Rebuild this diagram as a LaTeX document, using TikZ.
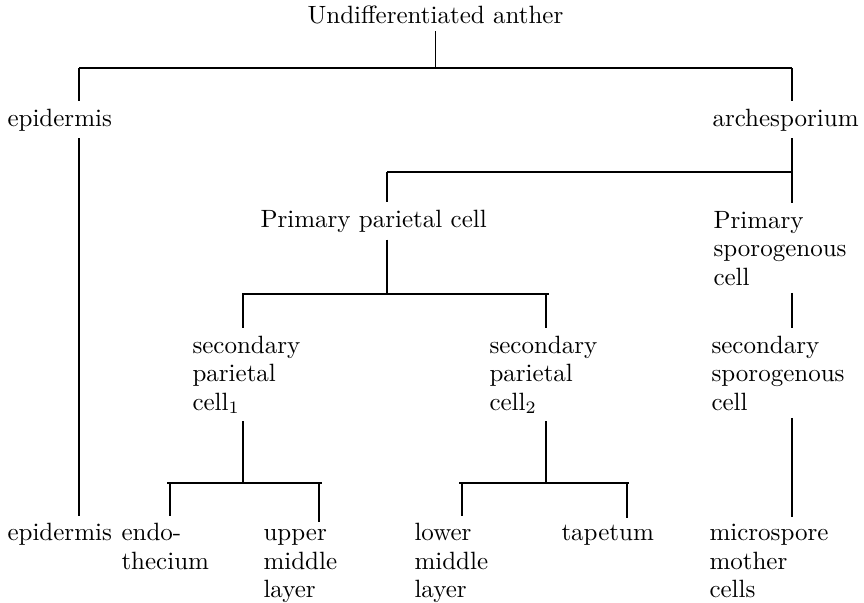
\documentclass[tikz,border=0pt]{standalone}
\usepackage{amsmath}
\usepackage{tikz}

\begin{document}
\begin{tikzpicture}[x=0.4pt,y=-0.4pt,
  cellname/.style={anchor=base west,align=left,inner xsep=0pt,inner ysep=2.8pt,
    font=\fontsize{10}{11.4}\selectfont},
  link/.style={line width=0.45pt}]
\useasboundingbox (0,0) rectangle (864,602);

% cell names (multi-line ones sit on the baseline of their last line)
\node[cellname,anchor=base] (root) at (435.5,23) {Undifferentiated anther};
\node[cellname] (epiA) at (7,126) {epidermis};
\node[cellname] (arch) at (712,126) {archesporium};
\node[cellname] (ppc) at (260,227) {Primary parietal cell};
\node[cellname] (psc) at (713,285) {Primary\\sporogenous\\cell};
\node[cellname] (spc1) at (192,410) {secondary\\parietal\\cell$_1$};
\node[cellname] (spc2) at (489,410) {secondary\\parietal\\cell$_2$};
\node[cellname] (ssc) at (711,410) {secondary\\sporogenous\\cell};
\node[cellname] (epiB) at (7,540.5) {epidermis};
\node[cellname] (endo) at (121,569) {endo-\\thecium};
\node[cellname] (umid) at (263,597.5) {upper\\middle\\layer};
\node[cellname] (lmid) at (414,597.5) {lower\\middle\\layer};
\node[cellname] (tap) at (561,540.5) {tapetum};
\node[cellname] (msc) at (709,597.5) {microspore\\mother\\cells};

% bars
\coordinate (barAl) at (79,68);  \coordinate (barAr) at (792,68);
\coordinate (barBl) at (387,172); \coordinate (barBr) at (792,172);
\coordinate (barCl) at (242,294); \coordinate (barCr) at (549,294);
\coordinate (barDl) at (167,483); \coordinate (barDr) at (322,483);
\coordinate (barEl) at (459,483); \coordinate (barEr) at (629,483);
\coordinate (colC1) at (243,294); \coordinate (colC2) at (546,294);
\coordinate (colD1) at (170,483); \coordinate (colD2) at (319,483);
\coordinate (colE1) at (462,483); \coordinate (colE2) at (627,483);

\foreach \b in {A,B,C,D,E} {
\draw[link] (bar\b l) -- (bar\b r);
}

\draw[link] (root.south) -- (root.south |- barAl);
\draw[link] (barAl) -- (barAl |- epiA.north);
\draw[link] (barAr) -- (barAr |- arch.north);
\draw[link] (barAl |- epiA.south) -- (barAl |- epiB.north);
\draw[link] (barAr |- arch.south) -- (barBr);
\draw[link] (barBl) -- (barBl |- ppc.north);
\draw[link] (barBr) -- (barBr |- psc.north);
\draw[link] (barBl |- ppc.south) -- (barBl |- barCl);
\draw[link] (colC1) -- (colC1 |- spc1.north);
\draw[link] (colC2) -- (colC2 |- spc2.north);
\draw[link] (barBr |- psc.south) -- (barBr |- ssc.north);
\draw[link] (colC1 |- spc1.south) -- (colC1 |- barDl);
\draw[link] (colD1) -- (colD1 |- endo.north);
\draw[link] (colD2) -- (colD2 |- umid.north);
\draw[link] (colC2 |- spc2.south) -- (colC2 |- barEl);
\draw[link] (colE1) -- (colE1 |- lmid.north);
\draw[link] (colE2) -- (colE2 |- tap.north);
\draw[link] (barBr |- ssc.south) -- (barBr |- msc.north);

\end{tikzpicture}
\end{document}
